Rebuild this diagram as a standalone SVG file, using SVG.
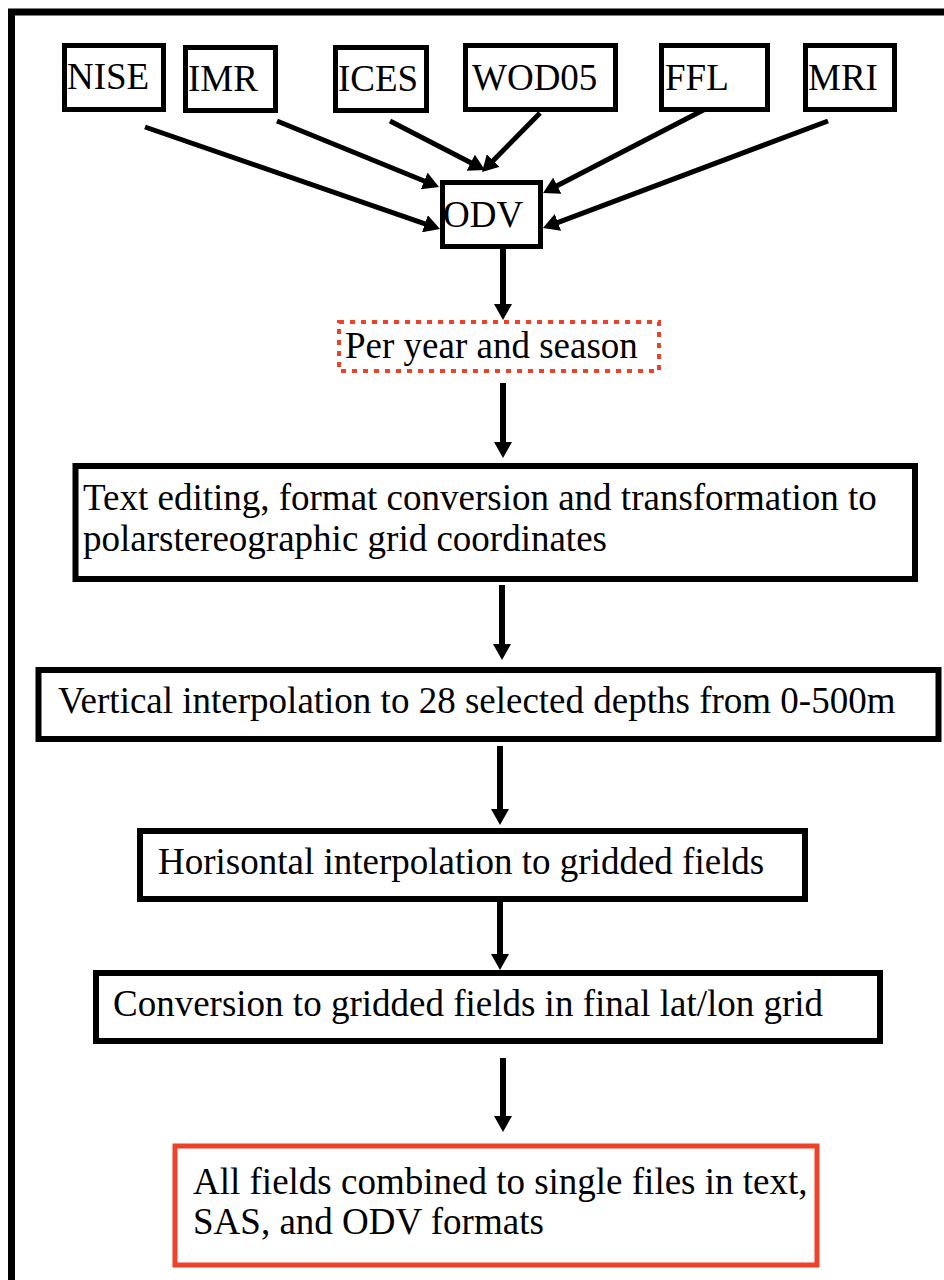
<svg xmlns="http://www.w3.org/2000/svg" width="944" height="1280" viewBox="0 0 944 1280">
<style>
  .box { fill: #ffffff; stroke: #000000; stroke-width: 5; }
  .bigbox { fill: #ffffff; stroke: #000000; stroke-width: 6; }
  .txt { font-family: "Liberation Serif", "Times New Roman", serif; font-size: 37px; fill: #000000; }
  .conn { stroke: #000000; stroke-width: 5; fill: none; }
  .vconn { stroke: #000000; stroke-width: 6; fill: none; }
</style>
<defs>
  <marker id="ah" markerUnits="userSpaceOnUse" viewBox="0 0 16 18" markerWidth="16" markerHeight="18" refX="4" refY="9" orient="auto">
    <path d="M0,0 L16,9 L0,18 Z" fill="#000000"/>
  </marker>
</defs>
<rect width="944" height="1280" fill="#ffffff"/>
<path d="M11.5,1290 V12 H960" fill="none" stroke="#000000" stroke-width="7"/>

<g id="connectors">
  <line class="conn" x1="145" y1="127" x2="428.7" y2="225.1" marker-end="url(#ah)"/>
  <line class="conn" x1="277" y1="121" x2="427.9" y2="182.5" marker-end="url(#ah)"/>
  <line class="conn" x1="390" y1="121" x2="474.3" y2="164.5" marker-end="url(#ah)"/>
  <line class="conn" x1="540" y1="113" x2="490.4" y2="163.4" marker-end="url(#ah)"/>
  <line class="conn" x1="715" y1="104" x2="553.7" y2="187.5" marker-end="url(#ah)"/>
  <line class="conn" x1="828" y1="121" x2="554.2" y2="223.8" marker-end="url(#ah)"/>
  <line class="vconn" x1="503" y1="249" x2="503" y2="308" marker-end="url(#ah)"/>
  <line class="vconn" x1="503" y1="383" x2="503" y2="446" marker-end="url(#ah)"/>
  <line class="vconn" x1="502" y1="585" x2="502" y2="648" marker-end="url(#ah)"/>
  <line class="vconn" x1="500" y1="746" x2="500" y2="813" marker-end="url(#ah)"/>
  <line class="vconn" x1="500" y1="902" x2="500" y2="958" marker-end="url(#ah)"/>
  <line class="vconn" x1="503" y1="1058" x2="503" y2="1120" marker-end="url(#ah)"/>
</g>

<g id="nise"><rect class="box" x="64.5" y="45.5" width="99" height="64"/><text class="txt" x="67" y="89">NISE</text></g>
<g id="imr"><rect class="box" x="185.5" y="47.5" width="90" height="63"/><text class="txt" x="188" y="91">IMR</text></g>
<g id="ices"><rect class="box" x="335.5" y="47.5" width="91" height="63"/><text class="txt" x="338" y="91">ICES</text></g>
<g id="wod05"><rect class="box" x="465.5" y="45.5" width="150" height="64"/><text class="txt" x="472" y="90">WOD05</text></g>
<g id="ffl"><rect class="box" x="661.5" y="45.5" width="106" height="64"/><text class="txt" x="665" y="90">FFL</text></g>
<g id="mri"><rect class="box" x="805.5" y="45.5" width="89" height="64"/><text class="txt" x="808" y="90">MRI</text></g>
<g id="odv"><rect class="box" x="442.5" y="182.5" width="98" height="64"/><text class="txt" x="443" y="227">ODV</text></g>

<g id="per-year"><rect x="339" y="322" width="320" height="49" fill="#ffffff" stroke="#ee4129" stroke-width="4" stroke-dasharray="5 6"/><text class="txt" x="345" y="358">Per year and season</text></g>

<g id="text-editing"><rect class="bigbox" x="75.5" y="466" width="839.5" height="113"/><text class="txt" x="83" y="510">Text editing, format conversion and transformation to</text><text class="txt" x="83" y="551">polarstereographic grid coordinates</text></g>

<g id="vertical"><rect class="bigbox" x="38.5" y="670" width="900" height="69"/><text class="txt" x="58" y="713">Vertical interpolation to 28 selected depths from 0-500m</text></g>

<g id="horisontal"><rect class="bigbox" x="140" y="831" width="665" height="68"/><text class="txt" x="158" y="874">Horisontal interpolation to gridded fields</text></g>

<g id="conversion"><rect class="bigbox" x="96" y="973" width="784" height="68"/><text class="txt" x="113" y="1016">Conversion to gridded fields in final lat/lon grid</text></g>

<g id="combined"><rect x="175" y="1146" width="642" height="119" fill="#ffffff" stroke="#ee4129" stroke-width="5"/><text class="txt" x="193" y="1194">All fields combined to single files in text,</text><text class="txt" x="193" y="1234">SAS, and ODV formats</text></g>
</svg>
